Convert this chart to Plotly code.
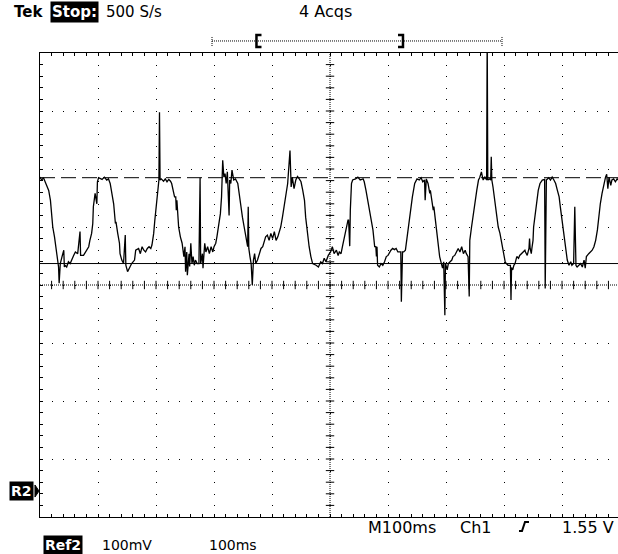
import plotly.graph_objects as go

# ---- data (Ref2 trace) ----
time_ms = [
    0, 3, 6, 9, 12, 15, 18, 20, 22, 25, 27, 29, 32, 33, 35, 38, 41, 42, 43, 46, 49, 52, 55, 58, 61, 65, 69, 70, 75, 81,
    84, 86, 89, 91, 92, 95, 98, 99, 101, 107, 111, 115, 118, 121, 124, 127, 130, 131, 134, 137, 138, 141, 144, 147, 148,
    151, 154, 158, 163, 165, 170,
    173, 176, 179, 182, 185, 188, 191, 193, 196, 198, 200, 203, 205, 206, 207, 209, 213, 216, 219, 222, 225, 227, 229,
    232, 234, 235, 236, 237, 239, 242, 245, 248, 250, 251, 253, 254, 257, 258, 260, 262, 264, 266, 268, 271, 274, 276,
    277, 280, 281, 284, 286, 289, 292, 295, 298, 300, 303, 305, 308, 311, 313, 315, 317, 319, 321, 323, 326, 327, 329,
    331, 334, 337,
    341, 343, 346, 349, 352, 355, 358, 359, 360, 362, 364, 366, 368, 370, 372, 375, 378, 381, 384, 387, 389, 392, 395,
    398, 401, 404, 407, 410, 412, 415, 418, 421, 424, 427, 431, 433, 435, 438, 441, 444, 447, 450, 453, 456, 458, 461,
    464, 467, 470, 476, 480, 484, 487, 490, 493, 497, 501,
    504, 507, 511, 514, 516, 519, 522, 525, 528, 531, 532, 534, 535, 536, 537, 539, 544, 548, 552, 557, 559, 562, 565,
    568, 571, 574, 577, 579, 580, 581, 582, 585, 588, 591, 594, 597, 600, 603, 605, 608, 611, 614, 617, 622, 623, 625,
    627, 630, 632, 635, 638, 642, 646, 650, 654, 657, 660, 663, 664, 665,
    666, 669, 672, 673, 675, 678, 679, 681, 684, 687, 689, 692, 694, 696, 698, 699, 702, 704, 707, 710, 712, 715, 718,
    721, 724, 727, 730, 733, 735, 738, 740, 741, 744, 747, 750, 753, 756, 758, 761, 764, 767, 770, 771, 772, 775, 777,
    778, 779, 781, 784, 787, 790, 793, 796, 799, 802, 804, 807, 811, 812, 813, 815, 817, 819, 822, 825, 827, 830, 833,
    836,
    837, 840, 843, 844, 845, 847, 848, 850, 851, 854, 856, 859, 862, 866, 870, 871, 873, 877, 880, 883, 886, 889, 892,
    895, 897, 900, 903, 906, 909, 912, 915, 917, 920, 922, 924, 926, 929, 932, 935, 938, 940, 942, 946, 949, 952, 955,
    958, 961, 963, 966, 969, 972, 975, 977, 979, 981, 984, 986, 989, 992, 995, 997,
]
ref2_mv = [
    541, 536, 540, 533, 524, 518, 501, 472, 455, 438, 421, 404, 386, 358, 392, 404, 415, 386, 389, 386, 395, 392, 401,
    406, 412, 409, 447, 406, 406, 415, 421, 432, 444, 461, 490, 513, 495, 533, 540, 537, 541, 536, 538, 530, 513, 495,
    461, 464, 444, 427, 409, 398, 392, 441, 389, 378, 384, 392, 398, 415, 418,
    409, 421, 415, 412, 418, 421, 418, 424, 444, 467, 490, 513, 536, 653, 536, 538, 534, 538, 533, 537, 534, 530, 521,
    507, 507, 484, 501, 484, 455, 438, 427, 404, 421, 378, 412, 372, 409, 387, 427, 392, 404, 389, 398, 392, 392, 540,
    392, 409, 384, 427, 412, 421, 409, 421, 412, 421, 427, 438, 455, 478, 507, 570, 541, 547, 530, 550, 475, 536, 530,
    553, 536, 538,
    530, 513, 490, 472, 455, 438, 421, 490, 418, 404, 392, 355, 398, 409, 392, 398, 409, 418, 421, 432, 438, 441, 432,
    444, 435, 447, 432, 438, 444, 455, 472, 490, 513, 530, 587, 524, 541, 521, 536, 542, 538, 533, 518, 501, 472, 444,
    421, 404, 392, 389, 386, 395, 392, 401, 395, 406, 412,
    421, 409, 415, 406, 412, 409, 424, 438, 455, 467, 467, 422, 484, 507, 530, 536, 538, 541, 536, 538, 533, 518, 501,
    487, 472, 450, 421, 421, 404, 421, 389, 386, 392, 389, 395, 404, 406, 412, 415, 418, 416, 418, 412, 412, 326, 412,
    412, 415, 432, 452, 478, 507, 530, 538, 536, 540, 533, 536, 501, 533,
    538, 530, 513, 518, 501, 484, 490, 472, 450, 427, 404, 392, 384, 395, 303, 392, 381, 392, 395, 398, 404, 406, 412,
    418, 412, 421, 409, 415, 409, 404, 335, 432, 455, 478, 501, 518, 536, 540, 550, 536, 541, 536, 790, 536, 538, 536,
    576, 536, 524, 501, 478, 455, 444, 427, 409, 395, 392, 389, 389, 329, 385, 381, 389, 392, 404, 401, 406, 409, 412,
    415,
    412, 406, 418, 435, 418, 409, 418, 432, 455, 478, 501, 518, 530, 536, 537, 349, 536, 540, 536, 541, 536, 530, 518,
    507, 490, 467, 444, 421, 398, 389, 395, 389, 392, 490, 389, 386, 389, 392, 386, 398, 384, 404, 409, 412, 415, 421,
    432, 450, 472, 495, 513, 530, 541, 546, 521, 541, 527, 536, 538, 533, 538, 536,
]

cursor_upper_mv = 540
cursor_lower_mv = 392
x_range = [0, 996.5]
y_range = [-45, 755]
div_ms = 100
div_mv = 100
minor_ms = 20
minor_mv = 20
center_ms = 500
center_mv = 355

FONT = "DejaVu Sans"

fig = go.Figure()

# centre graticule lines (dense dotted) with minor cross ticks
fig.add_shape(type="line", xref="x", yref="paper", x0=center_ms, x1=center_ms, y0=0, y1=1,
              line=dict(color="black", width=1, dash="1px,1px"), layer="below")
fig.add_shape(type="line", xref="paper", yref="y", x0=0, x1=1, y0=center_mv, y1=center_mv,
              line=dict(color="black", width=1, dash="1px,1px"), layer="below")

tick_x = [k * minor_ms for k in range(1, int(x_range[1] // minor_ms) + 1)]
fig.add_trace(go.Scatter(x=tick_x, y=[center_mv] * len(tick_x), mode="markers",
                         marker=dict(symbol="line-ns", size=6, color="black",
                                     line=dict(width=1, color="black")),
                         hoverinfo="skip"))
tick_y = [y_range[0] + k * minor_mv for k in range(1, int((y_range[1] - y_range[0]) // minor_mv))]
fig.add_trace(go.Scatter(x=[center_ms] * len(tick_y), y=tick_y, mode="markers",
                         marker=dict(symbol="line-ew", size=6, color="black",
                                     line=dict(width=1, color="black")),
                         hoverinfo="skip"))

# the Ref2 waveform
fig.add_trace(go.Scatter(x=time_ms, y=ref2_mv, mode="lines",
                         line=dict(color="black", width=1.3), hoverinfo="skip"))

# cursors
fig.add_shape(type="line", xref="paper", yref="y", x0=0, x1=1, y0=cursor_upper_mv, y1=cursor_upper_mv,
              line=dict(color="black", width=1, dash="15px,6px"))
fig.add_shape(type="line", xref="paper", yref="y", x0=0, x1=1, y0=cursor_lower_mv, y1=cursor_lower_mv,
              line=dict(color="black", width=1))

# header record bar
bar_y = 1.0259
fig.add_shape(type="line", xref="paper", yref="paper", x0=0.2976, x1=0.7993, y0=bar_y, y1=bar_y,
              line=dict(color="black", width=1, dash="1px,1px"))
for xe in (0.2976, 0.7993):
    fig.add_shape(type="line", xref="paper", yref="paper", x0=xe, x1=xe, y0=1.0151, y1=1.0366,
                  line=dict(color="black", width=1, dash="1px,1px"))
fig.add_shape(type="path", xref="paper", yref="paper",
              path="M 0.3832 1.0388 L 0.3745 1.0388 L 0.3745 1.0129 L 0.3832 1.0129",
              line=dict(color="black", width=2.5))
fig.add_shape(type="path", xref="paper", yref="paper",
              path="M 0.6194 1.0388 L 0.6280 1.0388 L 0.6280 1.0129 L 0.6194 1.0129",
              line=dict(color="black", width=2.5))

# trigger slope symbol
fig.add_shape(type="path", xref="paper", yref="paper",
              path="M 0.8287 -0.0302 L 0.8339 -0.0302 L 0.8391 -0.0108 L 0.8460 -0.0108",
              line=dict(color="black", width=2))

# R2 ground marker arrow
fig.add_shape(type="path", xref="paper", yref="paper",
              path="M -0.0087 0.0690 L -0.0017 0.0560 L -0.0087 0.0430 Z",
              line=dict(color="black", width=1), fillcolor="black")


def note(text, x, y, size, xanchor="left", color="black", bg=None):
    fig.add_annotation(text=text, x=x, y=y, xref="paper", yref="paper", xanchor=xanchor, yanchor="middle",
                       showarrow=False, font=dict(family=FONT, size=size, color=color),
                       bgcolor=bg, borderpad=1)


note("<b>Tek</b>", -0.0484, 1.0884, 15)
note("<b>Stop:</b>", 0.0173, 1.0884, 15, color="white", bg="black")
note("500 S/s", 0.1107, 1.0884, 15)
note("4 Acqs", 0.4446, 1.0884, 16)
note("M100ms", 0.5640, -0.0216, 16)
note("Ch1", 0.7232, -0.0216, 16)
note("1.55 V", 0.9965, -0.0216, 16, xanchor="right")
note("<b>Ref2</b>", 0.0052, -0.0603, 14, color="white", bg="black")
note("100mV", 0.1038, -0.0603, 14)
note("100ms", 0.2889, -0.0603, 14)
note("<b>R2</b>", -0.0104, 0.056, 14, xanchor="right", color="white", bg="black")

axis_common = dict(showgrid=True, gridcolor="black", gridwidth=1, griddash="1px,10.6px",
                   ticks="inside", ticklen=3, tickcolor="black", tickwidth=1, showticklabels=False,
                   showline=True, linecolor="black", linewidth=1, zeroline=False, fixedrange=True)

fig.update_layout(
    width=618, height=554,
    margin=dict(l=40, r=0, t=53, b=37),
    paper_bgcolor="white", plot_bgcolor="white",
    showlegend=False,
    xaxis=dict(range=x_range, tick0=0, dtick=div_ms, mirror="ticks",
               minor=dict(tick0=0, dtick=minor_ms, ticks="inside", ticklen=3, tickcolor="black", showgrid=False),
               **axis_common),
    yaxis=dict(range=y_range, tick0=y_range[0], dtick=div_mv, mirror=False,
               minor=dict(tick0=y_range[0], dtick=minor_mv, ticks="inside", ticklen=3, tickcolor="black",
                          showgrid=False),
               **axis_common),
)

fig.write_html("out.html")
